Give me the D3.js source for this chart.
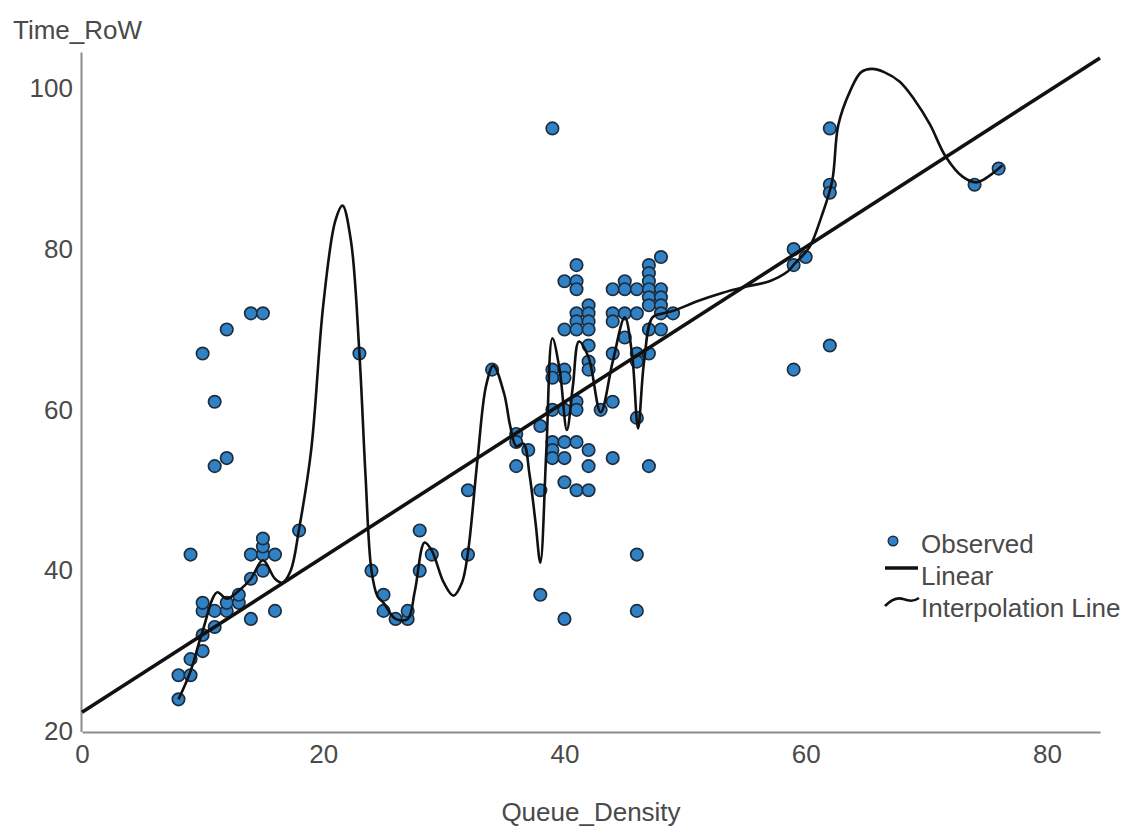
<!DOCTYPE html>
<html>
<head>
<meta charset="utf-8">
<script src="https://cdn.jsdelivr.net/npm/d3@7"></script>
<style>
  body { margin: 0; background: #fff; }
  text { font-family: "Liberation Sans", Arial, sans-serif; fill: #4a4a4a; }
</style>
</head>
<body>
<div id="chart"></div>
<script>
// observed cases: Queue_Density (x) and Time_RoW (y)
var obsX = [8, 8, 9, 9, 9, 10, 10, 10, 10, 10, 11, 11, 11, 11, 12, 12, 12, 12, 13, 13, 14, 14, 14, 14, 15, 15, 15, 15, 15, 16, 16, 18,
  23, 24, 25, 25, 26, 27, 27, 28, 28, 29, 32, 32, 34,
  36, 36, 36, 37, 38, 38, 38, 39, 39, 39, 40, 40, 40, 41, 41, 42, 42, 42, 40, 44, 47, 46, 46,
  39, 39, 39, 40, 40, 40, 40, 40, 41, 41, 41, 41, 41, 41, 41, 41, 42, 42, 42, 42, 42, 42, 42, 43,
  44, 44, 44, 44, 44, 45, 45, 45, 45, 46, 46, 46, 46, 46, 47, 47, 47, 47, 47, 47, 47, 47, 48, 48, 48, 48, 48, 48, 49, 39,
  59, 59, 59, 60, 62, 62, 62, 62, 74, 76];
var obsY = [24, 27, 27, 29, 42, 30, 32, 35, 36, 67, 33, 35, 53, 61, 35, 36, 54, 70, 36, 37, 34, 39, 42, 72, 40, 42, 43, 44, 72, 35, 42, 45,
  67, 40, 37, 35, 34, 34, 35, 45, 40, 42, 50, 42, 65,
  57, 56, 53, 55, 58, 50, 37, 56, 55, 54, 56, 54, 51, 56, 50, 55, 53, 50, 34, 54, 53, 42, 35,
  65, 64, 60, 76, 70, 65, 64, 60, 78, 76, 75, 72, 71, 70, 61, 60, 73, 72, 71, 70, 68, 66, 65, 60,
  75, 72, 71, 67, 61, 76, 75, 72, 69, 75, 72, 67, 66, 59, 78, 77, 76, 75, 74, 73, 70, 67, 79, 75, 74, 73, 72, 70, 72, 95,
  80, 78, 65, 79, 95, 88, 87, 68, 88, 90];

// interpolation line
var interpX = [8, 9, 10, 11.2, 12, 13, 14, 15, 16, 16.6, 17.3, 18, 19, 20, 21, 21.6, 22.3, 23, 23.5, 24,
  24.5, 25, 26, 27, 27.6, 28.4, 29, 30, 30.8, 31.5, 32, 32.8, 33.5, 34.1, 35, 35.5, 36, 36.6, 37.1, 37.6,
  38, 38.5, 39, 39.6, 40.2, 40.7, 41.2, 42, 43, 44, 45, 45.6, 46.1, 46.6, 47.3, 48.2, 49.2, 51, 53, 55,
  57, 58.5, 59.1, 60.3, 61.3, 62.2, 62.7, 63.7, 64.6, 65.5, 66.5, 67.8, 69, 70.3, 71.6, 73, 74.2, 76.3];
var interpY = [24, 27.5, 32.5, 37.3, 36.5, 37.5, 39, 41.3, 39, 38.5, 40, 45.2, 55, 73, 83.5, 85.4, 81, 67, 52, 40,
  36.8, 36, 34, 34, 37.5, 43.5, 42.5, 38.5, 36.9, 38.5, 42.3, 54, 63, 65.5, 62, 58, 55.5, 55.8, 52, 46,
  41, 55, 68.9, 65, 57.5, 63, 68.5, 66.5, 59.7, 66, 71.5, 67, 57.7, 66, 71.5, 72, 72.4, 73.5, 74.5, 75.3,
  76, 77.2, 78.2, 80.2, 84, 88.5, 95.4, 99.7, 102, 102.4, 102, 100.8, 98.6, 95.5, 91.5, 89, 88.3, 90.4];

// linear fit
var linIntercept = 22.4;
var linSlope = 0.964;

var xTicks = [0, 20, 40, 60, 80];
var yTicks = [20, 40, 60, 80, 100];
var xTitle = "Queue_Density";
var yTitle = "Time_RoW";
var legendLabels = ["Observed", "Linear", "Interpolation Line"];

var width = 1131, height = 829;

var svg = d3.select("#chart").append("svg")
    .attr("width", width)
    .attr("height", height);

var x = d3.scaleLinear().domain([0, 84.4]).range([82, 1100]);
var y = d3.scaleLinear().domain([20, 104.5]).range([731.5, 52]);

var xAxis = d3.axisBottom(x).tickValues(xTicks).tickSize(0).tickPadding(13);
var yAxis = d3.axisLeft(y).tickValues(yTicks).tickSize(0).tickPadding(8);

var gX = svg.append("g")
    .attr("transform", "translate(0,732)")
    .call(xAxis);
var gY = svg.append("g")
    .attr("transform", "translate(81,0)")
    .call(yAxis);

svg.selectAll(".domain")
    .attr("stroke", "#8c8c8c")
    .attr("stroke-width", 2);
svg.selectAll(".tick text")
    .style("font-size", "26px")
    .style("font-family", "'Liberation Sans', Arial, sans-serif")
    .attr("fill", "#4a4a4a");

// axis titles
svg.append("text")
    .attr("x", 13)
    .attr("y", 39)
    .style("font-size", "26px")
    .text(yTitle);
svg.append("text")
    .attr("x", 591)
    .attr("y", 821)
    .attr("text-anchor", "middle")
    .style("font-size", "26px")
    .text(xTitle);

// points
var pts = obsX.map(function (d, i) { return {x: d, y: obsY[i]}; });
svg.append("g")
    .selectAll("circle")
    .data(pts)
    .enter().append("circle")
    .attr("cx", function (d) { return x(d.x); })
    .attr("cy", function (d) { return y(d.y); })
    .attr("r", 6.2)
    .attr("fill", "#3182c4")
    .attr("stroke", "#1c2d3f")
    .attr("stroke-width", 1.7);

// linear fit line
svg.append("line")
    .attr("x1", x(0))
    .attr("y1", y(linIntercept))
    .attr("x2", x(84.4))
    .attr("y2", y(linIntercept + linSlope * 84.4))
    .attr("stroke", "#111")
    .attr("stroke-width", 3.6);

// interpolation line
var interp = interpX.map(function (d, i) { return [d, interpY[i]]; });
var line = d3.line()
    .x(function (d) { return x(d[0]); })
    .y(function (d) { return y(d[1]); })
    .curve(d3.curveCatmullRom.alpha(0.5));
svg.append("path")
    .datum(interp)
    .attr("d", line)
    .attr("fill", "none")
    .attr("stroke", "#111")
    .attr("stroke-width", 2.6);

// legend
var lg = svg.append("g").attr("class", "legend");
lg.append("circle")
    .attr("cx", 893).attr("cy", 541).attr("r", 4.8)
    .attr("fill", "#3182c4").attr("stroke", "#1c2d3f").attr("stroke-width", 1.4);
lg.append("line")
    .attr("x1", 885).attr("y1", 568).attr("x2", 918).attr("y2", 568)
    .attr("stroke", "#111").attr("stroke-width", 3.6);
lg.append("path")
    .attr("d", "M885,606 C891,600 897,597 903,599 C909,601 913,602 919,598")
    .attr("fill", "none").attr("stroke", "#111").attr("stroke-width", 2.6);
lg.selectAll("text")
    .data(legendLabels)
    .enter().append("text")
    .attr("x", 921)
    .attr("y", function (d, i) { return 553 + i * 32; })
    .style("font-size", "26px")
    .text(function (d) { return d; });
</script>
</body>
</html>
